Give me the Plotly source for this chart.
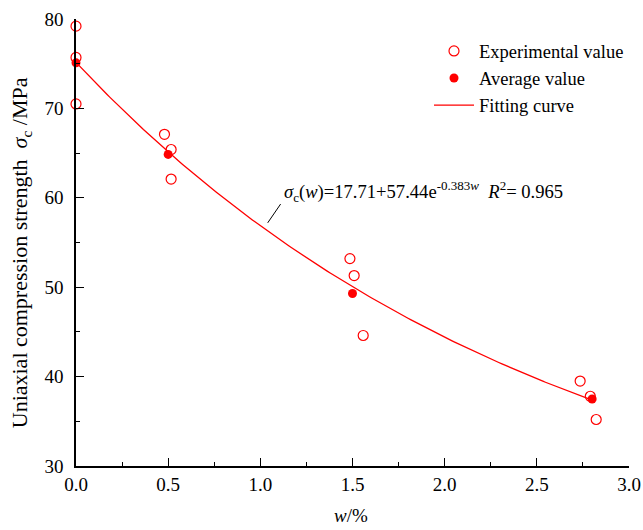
import numpy as np
import plotly.graph_objects as go

# Measured strengths at each water content
exp_w = [0.0, 0.0, 0.0, 0.48, 0.516, 0.516, 1.486, 1.509, 1.558, 2.735, 2.79, 2.822]
exp_s = [79.2, 75.7, 70.5, 67.1, 65.4, 62.1, 53.2, 51.3, 44.6, 39.5, 37.8, 35.2]

# Group means
avg_w = [0.0, 0.50, 1.50, 2.80]
avg_s = [75.1, 64.85, 49.3, 37.5]

# Exponential fit parameters
fit_a, fit_b, fit_k = 17.71, 57.44, -0.383
fit_r2 = 0.965

x_ticks = [0.0, 0.5, 1.0, 1.5, 2.0, 2.5, 3.0]
y_ticks = [30, 40, 50, 60, 70, 80]

w_curve = np.linspace(0.0, 2.8, 200)
s_curve = fit_a + fit_b * np.exp(fit_k * w_curve)

FONT = "Liberation Serif"
RED = "#ff0000"

fig = go.Figure()
fig.add_trace(go.Scatter(
    x=w_curve, y=s_curve, mode="lines", name="Fitting curve",
    line=dict(color=RED, width=1.3), legendrank=3, cliponaxis=False))
fig.add_trace(go.Scatter(
    x=exp_w, y=exp_s, mode="markers", name="Experimental value",
    marker=dict(symbol="circle-open", size=10, color=RED, line=dict(width=1.2)),
    legendrank=1, cliponaxis=False))
fig.add_trace(go.Scatter(
    x=avg_w, y=avg_s, mode="markers", name="Average value",
    marker=dict(symbol="circle", size=9, color=RED), legendrank=2, cliponaxis=False))

eq_text = (f"<i>σ</i><sub>c</sub>(<i>w</i>)={fit_a:.2f}+{fit_b:.2f}e"
           f"<sup>{fit_k:.3f}<i>w</i></sup>&nbsp;&nbsp;<i>R</i><sup>2</sup>= {fit_r2:.3f}")
fig.add_annotation(x=1.12, y=60.7, xref="x", yref="y", text=eq_text,
                   showarrow=False, xanchor="left", yanchor="middle",
                   font=dict(family=FONT, size=18.6, color="black"))
fig.add_shape(type="line", xref="x", yref="y", x0=1.04, y0=57.2, x1=1.11, y1=59.3,
              line=dict(color="black", width=1))

# Axis titles
fig.add_annotation(x=-0.099, y=0.4765, xref="paper", yref="paper",
                   text="Uniaxial compression strength&nbsp;&nbsp;<i>σ</i><sub>c</sub> /MPa",
                   textangle=-90, showarrow=False, xanchor="center", yanchor="middle",
                   font=dict(family=FONT, size=22, color="black"))
fig.add_annotation(x=0.497, y=-0.11, xref="paper", yref="paper",
                   text="<i>w</i>/%", showarrow=False, xanchor="center", yanchor="middle",
                   font=dict(family=FONT, size=19, color="black"))

axis_common = dict(
    showline=True, linecolor="black", linewidth=1.6, mirror=False,
    ticks="inside", ticklen=8, tickwidth=1.3, tickcolor="black",
    showgrid=False, zeroline=False, automargin=False,
    tickfont=dict(family=FONT, size=19, color="black"),
)

fig.update_xaxes(range=[0, 3.0], tickvals=x_ticks,
                 ticktext=[f"{v:.1f}" for v in x_ticks],
                 ticklabelstandoff=0,
                 minor=dict(ticks="inside", ticklen=4, tickwidth=1.3, dtick=0.25,
                            tickcolor="black", showgrid=False),
                 **axis_common)
fig.update_yaxes(range=[30, 80], tickvals=y_ticks,
                 ticklabelstandoff=7,
                 minor=dict(ticks="inside", ticklen=4, tickwidth=1.3, dtick=5,
                            tickcolor="black", showgrid=False),
                 **axis_common)

fig.update_layout(
    width=643, height=530,
    margin=dict(l=76, r=14, t=19, b=64),
    paper_bgcolor="white", plot_bgcolor="white",
    font=dict(family=FONT, size=19, color="black"),
    legend=dict(x=1.0, y=0.97, xanchor="right", yanchor="top",
                bgcolor="rgba(0,0,0,0)", font=dict(family=FONT, size=18.5),
                tracegroupgap=0, itemwidth=40),
    showlegend=True,
)

fig.write_html("out.html")
